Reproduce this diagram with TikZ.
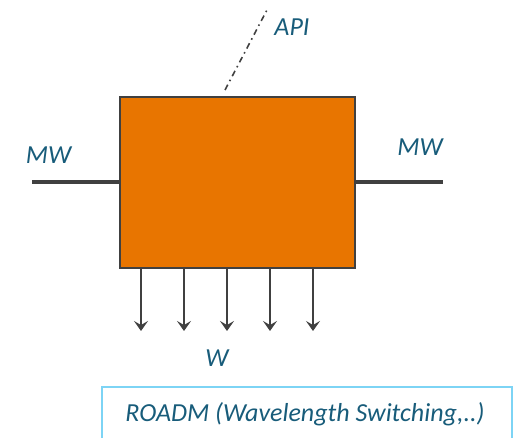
\documentclass[tikz,border=0pt]{standalone}
\usepackage{fontspec}
\setmainfont{Carlito}
\usetikzlibrary{arrows.meta}
\definecolor{orng}{RGB}{232,117,0}
\definecolor{edge}{RGB}{64,64,64}
\definecolor{txt}{RGB}{24,92,122}
\definecolor{lblue}{RGB}{125,212,245}
\tikzset{
  lbl/.style={text=txt, font=\fontsize{26}{30}\selectfont\itshape, inner sep=0pt},
  blk/.style={draw=edge, line width=2.5pt, fill=orng, minimum width=235pt, minimum height=171pt, inner sep=0pt},
  port/.style={draw=edge, line width=4pt},
  wout/.style={draw=edge, line width=1.8pt, -{Stealth[length=10pt,width=14pt,inset=4pt]}},
  apil/.style={draw=edge, line width=1.6pt, dash pattern=on 6pt off 4pt on 1.6pt off 4pt},
  rbox/.style={draw=lblue, line width=1.5pt, minimum width=410pt, minimum height=70pt, inner sep=0pt}
}
\begin{document}
\begin{tikzpicture}[x=1pt,y=-1pt]
\useasboundingbox (0,0) rectangle (513,438);
\clip (0,0) rectangle (513,438);
\node[rbox] (rb) at (307,422) {};
\node[lbl, anchor=base] (rt) at (305,421.5) {ROADM (Wavelength Switching,..)};
\coordinate (lend) at (32,182);
\coordinate (rend) at (443,182);
\draw[port] (lend) -- (120,182) coordinate (lin);
\draw[port] (355,182) coordinate (rin) -- (rend);
\node[blk] (box) at (237.5,182.5) {};
\coordinate (apitop) at (268,8);
\coordinate (apibot) at (225,90);
\draw[apil] (apibot) -- (apitop);
\foreach \x [count=\i] in {141,184,227,270,313}{
  \coordinate (s\i) at (\x,268);
  \coordinate (e\i) at (\x,331);
  \draw[wout] (s\i) -- (e\i);
}
\node[lbl] (mwl) at (48.5,155) {MW};
\node[lbl] (mwr) at (420,147) {MW};
\node[lbl] (api) at (292,27) {API};
\node[lbl] (w) at (217,358) {W};
\end{tikzpicture}
\end{document}
